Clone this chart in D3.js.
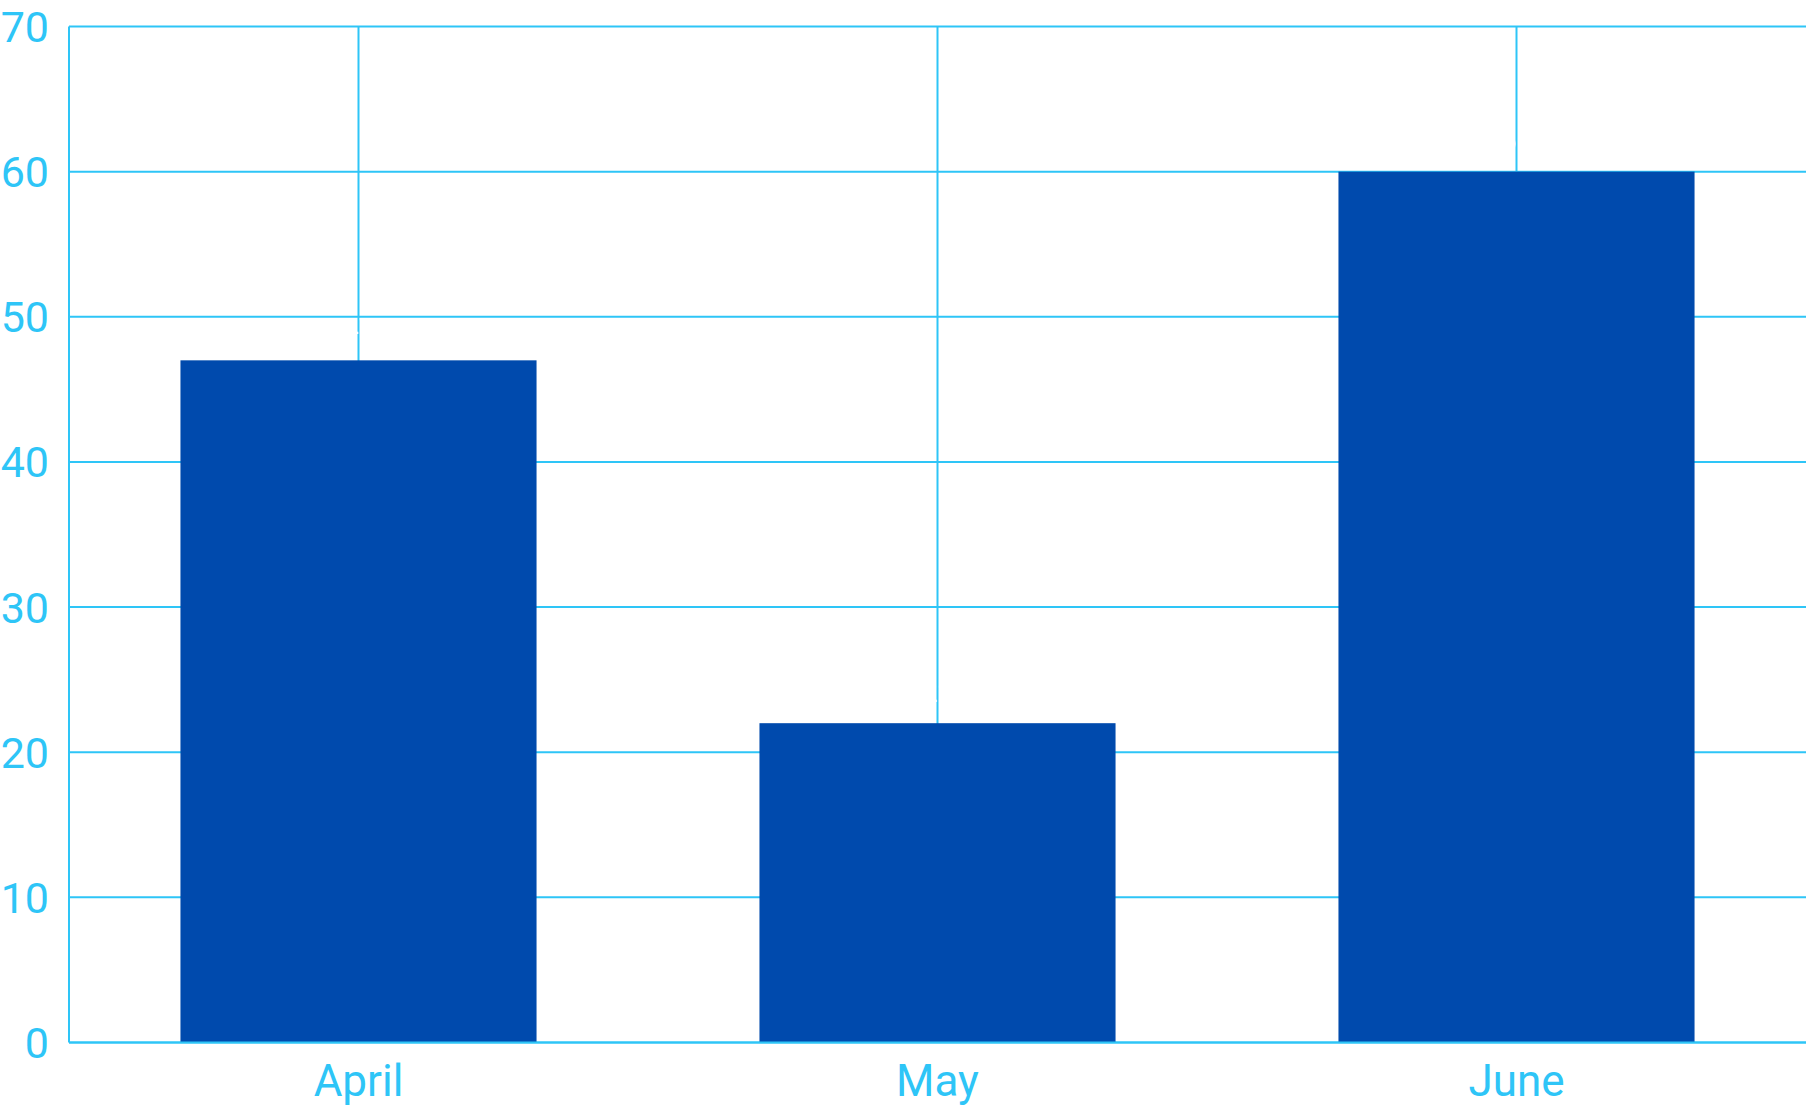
<!DOCTYPE html>
<html>
<head>
<meta charset="utf-8">
<script src="https://cdn.jsdelivr.net/npm/d3@7"></script>
<style>
  body { margin: 0; background: #ffffff; }
  svg { display: block; font-family: Roboto, "Noto Sans", sans-serif; }
</style>
</head>
<body>
<div id="chart"></div>
<script>
  // chart data
  var months = ['April', 'May', 'June'];
  var values = [47, 22, 60];
  var yTicks = [0, 10, 20, 30, 40, 50, 60, 70];

  var width = 1806;
  var height = 1108;
  var margin = { top: 26.5, right: 0, bottom: 65.5, left: 69 };

  var lightBlue = '#2ec5f7';
  var barBlue = '#004aad';

  var svg = d3.select('#chart')
    .append('svg')
    .attr('width', width)
    .attr('height', height);

  var x = d3.scaleBand()
    .domain(months)
    .range([margin.left, width - margin.right])
    .paddingInner(0.385)
    .paddingOuter(0.1925);

  var y = d3.scaleLinear()
    .domain([0, 70])
    .range([height - margin.bottom, margin.top]);

  var grid = svg.append('g');

  // horizontal gridlines
  grid.selectAll('.hgrid')
    .data(yTicks)
    .enter()
    .append('line')
    .attr('x1', margin.left)
    .attr('x2', width)
    .attr('y1', function(d) { return y(d); })
    .attr('y2', function(d) { return y(d); })
    .attr('stroke', lightBlue)
    .attr('stroke-width', 2);

  // vertical gridlines at category centres
  grid.selectAll('.vgrid')
    .data(months)
    .enter()
    .append('line')
    .attr('x1', function(d) { return x(d) + x.bandwidth() / 2; })
    .attr('x2', function(d) { return x(d) + x.bandwidth() / 2; })
    .attr('y1', y(70))
    .attr('y2', y(0))
    .attr('stroke', lightBlue)
    .attr('stroke-width', 2);

  // left axis line
  grid.append('line')
    .attr('x1', margin.left)
    .attr('x2', margin.left)
    .attr('y1', y(70))
    .attr('y2', y(0))
    .attr('stroke', lightBlue)
    .attr('stroke-width', 2);

  // bars
  svg.selectAll('.bar')
    .data(values)
    .enter()
    .append('rect')
    .attr('x', function(d, i) { return x(months[i]); })
    .attr('width', x.bandwidth())
    .attr('y', function(d) { return y(d); })
    .attr('height', function(d) { return y(0) - y(d); })
    .attr('fill', barBlue);

  // baseline over bars
  svg.append('line')
    .attr('x1', margin.left)
    .attr('x2', width)
    .attr('y1', y(0))
    .attr('y2', y(0))
    .attr('stroke', lightBlue)
    .attr('stroke-width', 2);

  // value labels (white, only visible where they cross gridlines)
  svg.selectAll('.value')
    .data(values)
    .enter()
    .append('text')
    .attr('x', function(d, i) { return x(months[i]) + x.bandwidth() / 2; })
    .attr('y', function(d) { return y(d) - 21; })
    .attr('text-anchor', 'middle')
    .attr('font-size', 30)
    .attr('fill', '#ffffff')
    .text(function(d) { return d; });

  // y tick labels
  svg.selectAll('.ytick')
    .data(yTicks)
    .enter()
    .append('text')
    .attr('x', margin.left - 20)
    .attr('y', function(d) { return y(d); })
    .attr('dy', '0.36em')
    .attr('text-anchor', 'end')
    .attr('font-size', 43)
    .attr('fill', lightBlue)
    .text(function(d) { return d; });

  // x category labels
  svg.selectAll('.xtick')
    .data(months)
    .enter()
    .append('text')
    .attr('x', function(d) { return x(d) + x.bandwidth() / 2; })
    .attr('y', y(0) + 53)
    .attr('text-anchor', 'middle')
    .attr('font-size', 44)
    .attr('fill', lightBlue)
    .text(function(d) { return d; });
</script>
</body>
</html>
